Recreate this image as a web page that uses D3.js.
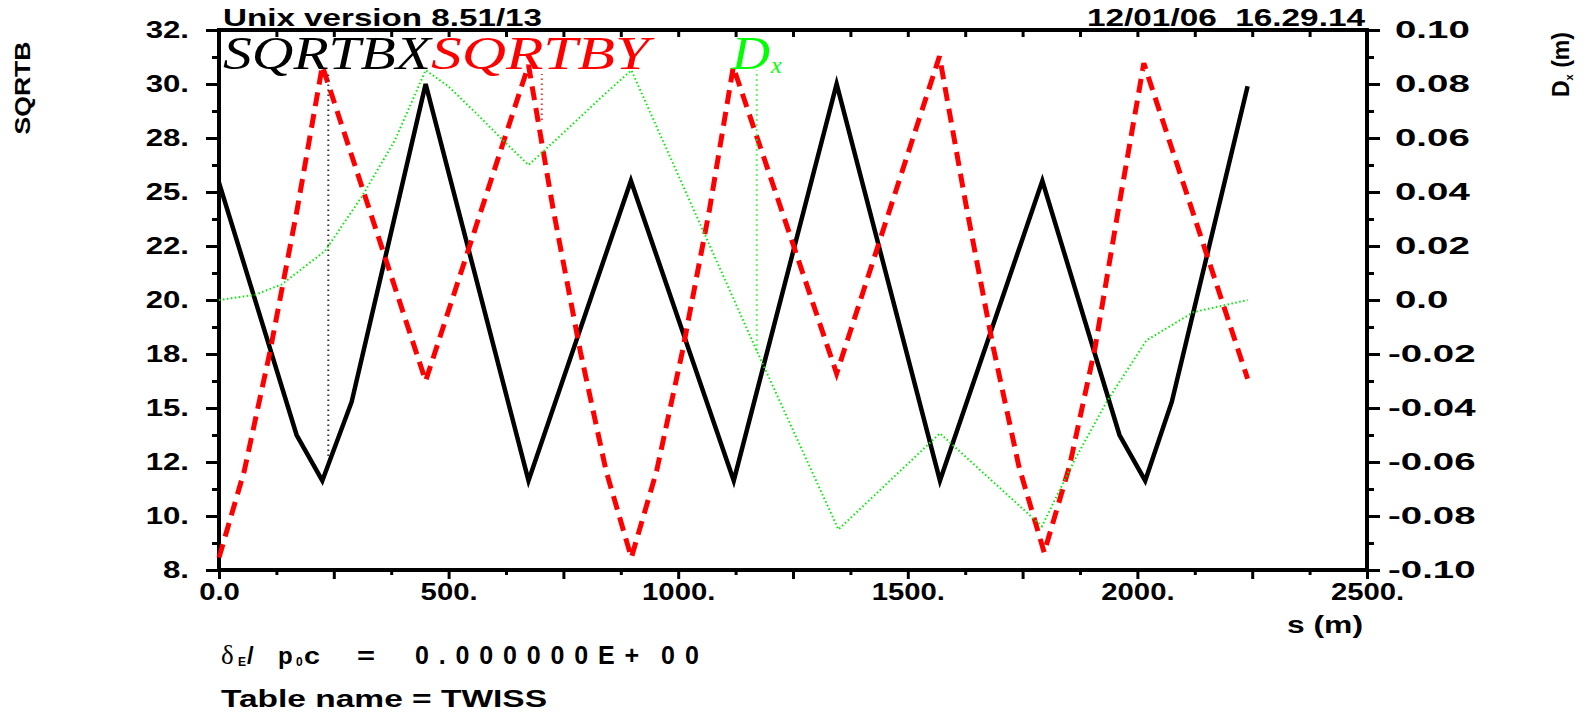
<!DOCTYPE html>
<html>
<head>
<meta charset="utf-8">
<script src="https://cdn.jsdelivr.net/npm/d3@7"></script>
<style>
  body { margin: 0; background: #fff; }
  svg { display: block; }
  text { font-family: "Liberation Sans", Arial, sans-serif; font-weight: bold; white-space: pre; }
</style>
</head>
<body>
<div id="container"></div>
<script>
/* CONSTANTS AND GLOBALS */
const width = 1589,
    height = 713,
    frame = { left: 219, right: 1367, top: 30, bottom: 570 };

// DATA
// sqrt(beta_x)
const sBx = [0, 169, 225, 289, 450, 674, 897, 1121, 1345, 1570, 1793, 1961, 2017, 2075, 2240];
const sqrtBx = [25.22, 14.0, 11.97, 15.48, 29.6, 11.97, 25.3, 11.97, 29.6, 11.97, 25.3, 14.0, 11.97, 15.48, 29.5];

// sqrt(beta_y)
const sBy = [0, 55, 111, 170, 225, 450, 674, 728, 787, 843, 898, 953, 1009, 1068, 1120, 1345, 1569, 1627, 1686, 1742, 1797, 1852, 1908, 1960, 2014, 2240];
const sqrtBy = [8.55, 12.4, 17.7, 24.0, 30.4, 16.4, 30.44, 24.0, 17.7, 12.4, 8.55, 12.4, 17.7, 24.0, 30.36, 16.73, 30.83, 24.2, 17.9, 12.6, 8.78, 12.6, 17.9, 24.2, 30.52, 16.5];

// dispersion Dx (m), right axis
const sDx = [0, 78, 137, 231, 311, 383, 450, 499, 558, 619, 674, 757, 830, 898, 1171, 1349, 1570, 1792, 1864, 1933, 2020, 2122, 2240];
const dx = [0.0, 0.0019, 0.0058, 0.0182, 0.0383, 0.0591, 0.0851, 0.0792, 0.0695, 0.0591, 0.050, 0.063, 0.0747, 0.0851, -0.0188, -0.085, -0.0494, -0.0838, -0.059, -0.0377, -0.0149, -0.0045, 0.0];

// thin vertical plot artefacts: [s, from, to]
const blackDrop = [238, 13.07, 30.05];
const redDrop = [703, 28.0, 30.05];
const greenDrop = [1171, -0.0188, 0.0851];

// ticks and labels
const leftTicks = [8, 10.4, 12.8, 15.2, 17.6, 20, 22.4, 24.8, 27.2, 29.6, 32];
const leftLabels = ["8.", "10.", "12.", "15.", "18.", "20.", "22.", "25.", "28.", "30.", "32."];
const rightTicks = [-0.10, -0.08, -0.06, -0.04, -0.02, 0, 0.02, 0.04, 0.06, 0.08, 0.10];
const rightLabels = ["-0.10", "-0.08", "-0.06", "-0.04", "-0.02", "0.0", "0.02", "0.04", "0.06", "0.08", "0.10"];
const xTicks = [0, 500, 1000, 1500, 2000, 2500];
const xLabels = ["0.0", "500.", "1000.", "1500.", "2000.", "2500."];

// SVG
const svg = d3.select("#container")
    .append("svg")
    .attr("width", width)
    .attr("height", height);

svg.append("rect").attr("width", width).attr("height", height).attr("fill", "#fff");

// SCALES
const x = d3.scaleLinear().domain([0, 2500]).range([frame.left, frame.right]);
const yL = d3.scaleLinear().domain([8, 32]).range([frame.bottom, frame.top]);
const yR = d3.scaleLinear().domain([-0.1, 0.1]).range([frame.bottom, frame.top]);

// stretch text horizontally like the original plotter fonts
function stretch(sel, k) {
    sel.each(function () {
        const w = this.getComputedTextLength();
        d3.select(this).attr("textLength", w * k).attr("lengthAdjust", "spacingAndGlyphs");
    });
}

function styleAxis(g) {
    g.select(".domain").remove();
    g.selectAll(".tick line").attr("stroke", "#000").attr("stroke-width", 3);
    g.selectAll(".tick text").attr("fill", "#000").attr("font-size", 24).attr("font-family", null);
}

// AXES
const major250 = d3.range(0, 2501, 250);
const minor125 = d3.range(125, 2500, 250);
const minorL = leftTicks.slice(1).map((d, i) => (d + leftTicks[i]) / 2);
const minorR = rightTicks.slice(1).map((d, i) => (d + rightTicks[i]) / 2);

// bottom
svg.append("g")
    .attr("transform", `translate(0,${frame.bottom})`)
    .call(d3.axisBottom(x).tickValues(major250).tickSize(9).tickPadding(4)
        .tickFormat(d => xTicks.includes(d) ? xLabels[xTicks.indexOf(d)] : ""))
    .call(styleAxis)
    .call(g => stretch(g.selectAll(".tick text"), 1.22));
svg.append("g")
    .attr("transform", `translate(0,${frame.bottom})`)
    .call(d3.axisBottom(x).tickValues(minor125).tickSize(5).tickFormat(""))
    .call(styleAxis);

// top (ticks inward)
svg.append("g")
    .attr("transform", `translate(0,${frame.top})`)
    .call(d3.axisBottom(x).tickValues(d3.range(125, 2500, 125)).tickSize(7).tickFormat(""))
    .call(styleAxis);

// left
svg.append("g")
    .attr("transform", `translate(${frame.left},0)`)
    .call(d3.axisLeft(yL).tickValues(leftTicks).tickSize(13).tickPadding(17)
        .tickFormat((d, i) => leftLabels[i]))
    .call(styleAxis)
    .call(g => stretch(g.selectAll(".tick text"), 1.3));
svg.append("g")
    .attr("transform", `translate(${frame.left},0)`)
    .call(d3.axisLeft(yL).tickValues(minorL).tickSize(7).tickFormat(""))
    .call(styleAxis);

// right
svg.append("g")
    .attr("transform", `translate(${frame.right},0)`)
    .call(d3.axisRight(yR).tickValues(rightTicks).tickSize(13).tickPadding(15)
        .tickFormat((d, i) => rightLabels[i]))
    .call(styleAxis)
    .call(g => g.selectAll(".tick text").filter(d => d < 0).attr("x", 21))
    .call(g => stretch(g.selectAll(".tick text"), 1.6));
svg.append("g")
    .attr("transform", `translate(${frame.right},0)`)
    .call(d3.axisRight(yR).tickValues(minorR).tickSize(7).tickFormat(""))
    .call(styleAxis);

// FRAME
svg.append("path")
    .attr("d", `M${frame.left},${frame.top}H${frame.right}V${frame.bottom}H${frame.left}Z`)
    .attr("fill", "none")
    .attr("stroke", "#000")
    .attr("stroke-width", 4)
    .attr("stroke-linejoin", "miter");

// LINES
const lineL = d3.line().x(d => x(d[0])).y(d => yL(d[1]));
const lineR = d3.line().x(d => x(d[0])).y(d => yR(d[1]));

svg.append("path")
    .datum(sBx.map((s, i) => [s, sqrtBx[i]]))
    .attr("d", lineL)
    .attr("fill", "none")
    .attr("stroke", "#000")
    .attr("stroke-width", 4.5)
    .attr("stroke-linejoin", "miter");

svg.append("path")
    .datum(sBy.map((s, i) => [s, sqrtBy[i]]))
    .attr("d", lineL)
    .attr("fill", "none")
    .attr("stroke", "#ff0000")
    .attr("stroke-width", 5)
    .attr("stroke-dasharray", "14,8");

svg.append("path")
    .datum(sDx.map((s, i) => [s, dx[i]]))
    .attr("d", lineR)
    .attr("fill", "none")
    .attr("stroke", "#00ee00")
    .attr("stroke-width", 2)
    .attr("stroke-dasharray", "1.5,2.5");

// vertical artefacts
svg.append("path")
    .datum([[blackDrop[0], blackDrop[1]], [blackDrop[0], blackDrop[2]]])
    .attr("d", lineL)
    .attr("stroke", "#333").attr("stroke-width", 2).attr("stroke-dasharray", "1.5,3.5");
svg.append("path")
    .datum([[redDrop[0], redDrop[1]], [redDrop[0], redDrop[2]]])
    .attr("d", lineL)
    .attr("stroke", "#ff3333").attr("stroke-width", 2).attr("stroke-dasharray", "1.5,3.5");
svg.append("path")
    .datum([[greenDrop[0], greenDrop[1]], [greenDrop[0], greenDrop[2]]])
    .attr("d", lineR)
    .attr("stroke", "#33ee33").attr("stroke-width", 2).attr("stroke-dasharray", "1.5,3.5");

// LEGEND
const legend = svg.append("g");
function legendText(xPos, yPos, size, color, len, label) {
    const t = legend.append("text").attr("x", xPos).attr("y", yPos).attr("font-size", size)
        .style("font-family", "'Liberation Serif', 'Times New Roman', serif")
        .style("font-weight", "normal").style("font-style", "italic")
        .attr("fill", color).text(label);
    if (len) t.attr("textLength", len).attr("lengthAdjust", "spacingAndGlyphs");
}
legendText(223, 69, 46, "#000", 208, "SQRTBX");
legendText(431, 69, 46, "#ff0000", 218, "SQRTBY");
legendText(732, 69, 46, "#00ff00", 38, "D");
legendText(771, 73, 24, "#00ff00", null, "x");

// HEADER
svg.append("text").attr("x", 223).attr("y", 26).attr("font-size", 24)
    .attr("textLength", 319).attr("lengthAdjust", "spacingAndGlyphs")
    .text("Unix version 8.51/13");
svg.append("text").attr("x", 1087).attr("y", 26).attr("font-size", 24)
    .attr("textLength", 278).attr("lengthAdjust", "spacingAndGlyphs")
    .text("12/01/06  16.29.14");

// AXIS TITLES
svg.append("text")
    .attr("transform", "translate(30,88) rotate(-90)")
    .attr("text-anchor", "middle")
    .attr("font-size", 22)
    .attr("textLength", 93).attr("lengthAdjust", "spacingAndGlyphs")
    .text("SQRTB");

const dxTitle = svg.append("text")
    .attr("transform", "translate(1569,97) rotate(-90)")
    .attr("font-size", 23);
dxTitle.append("tspan").text("D");
dxTitle.append("tspan").attr("font-size", 11).attr("dy", 4).text("x");
dxTitle.append("tspan").attr("dy", -4).text(" (m)");

svg.append("text").attr("x", 1287).attr("y", 633).attr("font-size", 24)
    .attr("textLength", 76).attr("lengthAdjust", "spacingAndGlyphs")
    .text("s (m)");

// FOOTER
svg.append("text").attr("x", 221).attr("y", 664).attr("font-size", 27)
    .style("font-family", "'Liberation Serif', serif").style("font-weight", "normal")
    .text("δ");
svg.append("text").attr("x", 238).attr("y", 666).attr("font-size", 12).text("E");
svg.append("text").attr("x", 247).attr("y", 664).attr("font-size", 24).text("/");
svg.append("text").attr("x", 278).attr("y", 664).attr("font-size", 24).text("p");
svg.append("text").attr("x", 296).attr("y", 666).attr("font-size", 12).text("0");
svg.append("text").attr("x", 304).attr("y", 664).attr("font-size", 24)
    .attr("textLength", 16).attr("lengthAdjust", "spacingAndGlyphs").text("c");
svg.append("text").attr("x", 357).attr("y", 664).attr("font-size", 24)
    .attr("textLength", 18).attr("lengthAdjust", "spacingAndGlyphs").text("=");
svg.append("text").attr("x", 415).attr("y", 664).attr("font-size", 25)
    .attr("textLength", 224).attr("lengthAdjust", "spacing")
    .text("0.000000E+");
svg.append("text").attr("x", 661).attr("y", 664).attr("font-size", 25)
    .attr("textLength", 38).attr("lengthAdjust", "spacing")
    .text("00");
svg.append("text").attr("x", 221).attr("y", 707).attr("font-size", 24)
    .attr("textLength", 326).attr("lengthAdjust", "spacingAndGlyphs")
    .text("Table name = TWISS");
</script>
</body>
</html>
